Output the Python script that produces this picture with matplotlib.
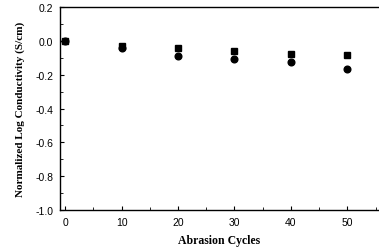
import numpy as np
import matplotlib
matplotlib.use("Agg")
import matplotlib.pyplot as plt
from matplotlib.ticker import MultipleLocator

cycles = [0, 10, 20, 30, 40, 50]
series_sq = [0.0, -0.03, -0.045, -0.06, -0.075, -0.083]
series_ci = [0.0, -0.045, -0.09, -0.105, -0.128, -0.164]

fig = plt.figure(figsize=(3.79, 2.51), dpi=100)
ax = fig.add_axes([60 / 379, 1 - 211 / 251, 1 - 60 / 379, 203 / 251])

ax.plot(cycles, series_sq, 's', color='black', markersize=3.8, clip_on=False)
ax.plot(cycles, series_ci, 'o', color='black', markersize=4.8, clip_on=False)

ax.set_xlim(-0.9, 55.6)
ax.set_ylim(-1.0, 0.2)
ax.set_xticks(cycles)
ax.set_yticks(np.arange(-1.0, 0.21, 0.2))
ax.yaxis.set_minor_locator(MultipleLocator(0.1))
ax.xaxis.set_minor_locator(MultipleLocator(5))
ax.set_yticklabels(['-1.0', '-0.8', '-0.6', '-0.4', '-0.2', '0.0', '0.2'])

ax.spines['right'].set_visible(False)
for s in ['left', 'bottom', 'top']:
    ax.spines[s].set_linewidth(1.0)
ax.tick_params(direction='in', length=3, width=0.8, labelsize=7.5, pad=5,
               top=False, right=False)
ax.tick_params(which='minor', direction='in', length=2, width=0.6,
               top=False, right=False)
for lab in ax.get_xticklabels() + ax.get_yticklabels():
    lab.set_fontfamily('Liberation Sans')

ax.set_xlabel('Abrasion Cycles', fontsize=8.5, fontweight='bold',
              family='Liberation Serif', labelpad=5)
ax.set_ylabel('Normalized Log Conductivity (S/cm)', fontsize=8,
              fontweight='bold', family='Liberation Serif', labelpad=7)

fig.savefig('out.png', dpi=100)
